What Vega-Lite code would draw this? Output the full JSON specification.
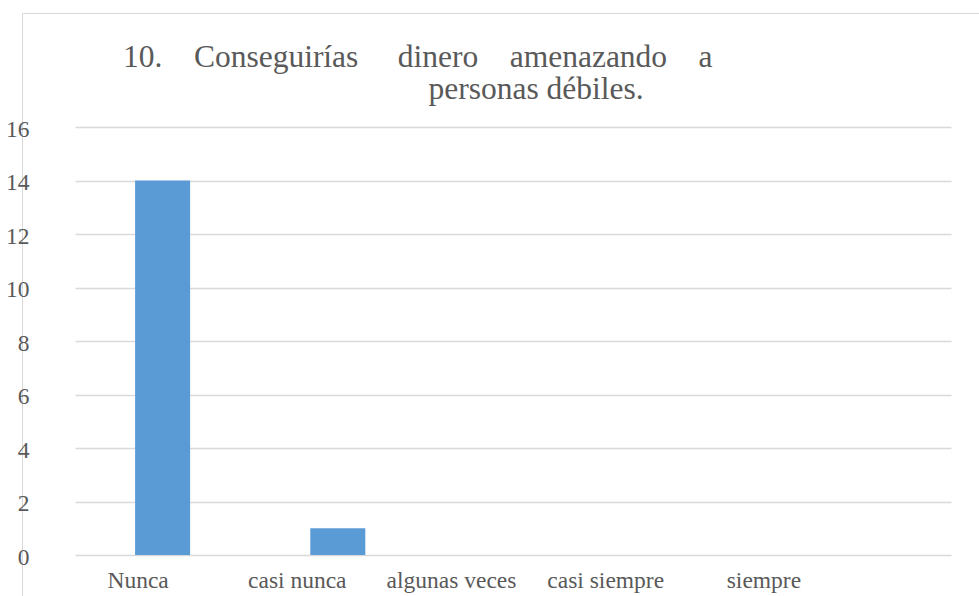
{
  "$schema": "https://vega.github.io/schema/vega-lite/v6.json",
  "autosize": {"type": "none"},
  "padding": {"left": 22, "top": 13, "right": -30, "bottom": -40},
  "width": 987,
  "height": 623,
  "background": "white",
  "config": {
    "view": {"stroke": "#d9d9d9", "strokeWidth": 1},
    "font": "Liberation Serif"
  },
  "title": {
    "text": "10.\u00a0\u00a0\u00a0\u00a0Conseguirías\u00a0\u00a0\u00a0\u00a0\u00a0dinero\u00a0\u00a0\u00a0\u00a0amenazando\u00a0\u00a0\u00a0\u00a0a",
    "anchor": "start",
    "frame": "group",
    "orient": "top",
    "baseline": "top",
    "dx": 101,
    "dy": 64,
    "font": "Liberation Serif",
    "fontSize": 31.5,
    "fontWeight": "normal",
    "color": "#595959"
  },
  "data": {
    "values": [
      {"respuesta": "Nunca", "cantidad": 14},
      {"respuesta": "casi nunca", "cantidad": 1},
      {"respuesta": "algunas veces", "cantidad": 0},
      {"respuesta": "casi siempre", "cantidad": 0},
      {"respuesta": "siempre", "cantidad": 0}
    ]
  },
  "mark": {"type": "bar", "color": "#5b9bd5"},
  "encoding": {
    "x": {
      "field": "respuesta",
      "type": "nominal",
      "sort": null,
      "scale": {"range": [53, 929], "paddingInner": 0.686, "paddingOuter": 0.343},
      "axis": {
        "title": null,
        "orient": "bottom",
        "offset": -81,
        "domain": false,
        "ticks": false,
        "grid": false,
        "labelAngle": 0,
        "labelPadding": 13,
        "labelFont": "Liberation Serif",
        "labelFontSize": 23.5,
        "labelColor": "#595959",
        "labelOffset": {
          "condition": [
            {"test": "datum.value === 'Nunca'", "value": -24.5},
            {"test": "datum.value === 'casi nunca'", "value": -40.5},
            {"test": "datum.value === 'algunas veces'", "value": -61.5},
            {"test": "datum.value === 'casi siempre'", "value": -82.5}
          ],
          "value": -99.5
        }
      }
    },
    "y": {
      "field": "cantidad",
      "type": "quantitative",
      "scale": {"domain": [0, 16], "range": [542, 114], "nice": false},
      "axis": {
        "title": "personas débiles.",
        "titleAngle": 0,
        "titleX": 406,
        "titleY": 85,
        "titleAlign": "left",
        "titleBaseline": "alphabetic",
        "titleFont": "Liberation Serif",
        "titleFontSize": 31.5,
        "titleFontWeight": "normal",
        "titleColor": "#595959",
        "values": [0, 2, 4, 6, 8, 10, 12, 14, 16],
        "domain": false,
        "ticks": false,
        "grid": true,
        "gridColor": "#d9d9d9",
        "gridWidth": 1.3,
        "labelAlign": "right",
        "labelBaseline": "middle",
        "labelPadding": -7,
        "labelOffset": 2,
        "labelFont": "Liberation Serif",
        "labelFontSize": 23.5,
        "labelColor": "#595959"
      }
    }
  }
}
